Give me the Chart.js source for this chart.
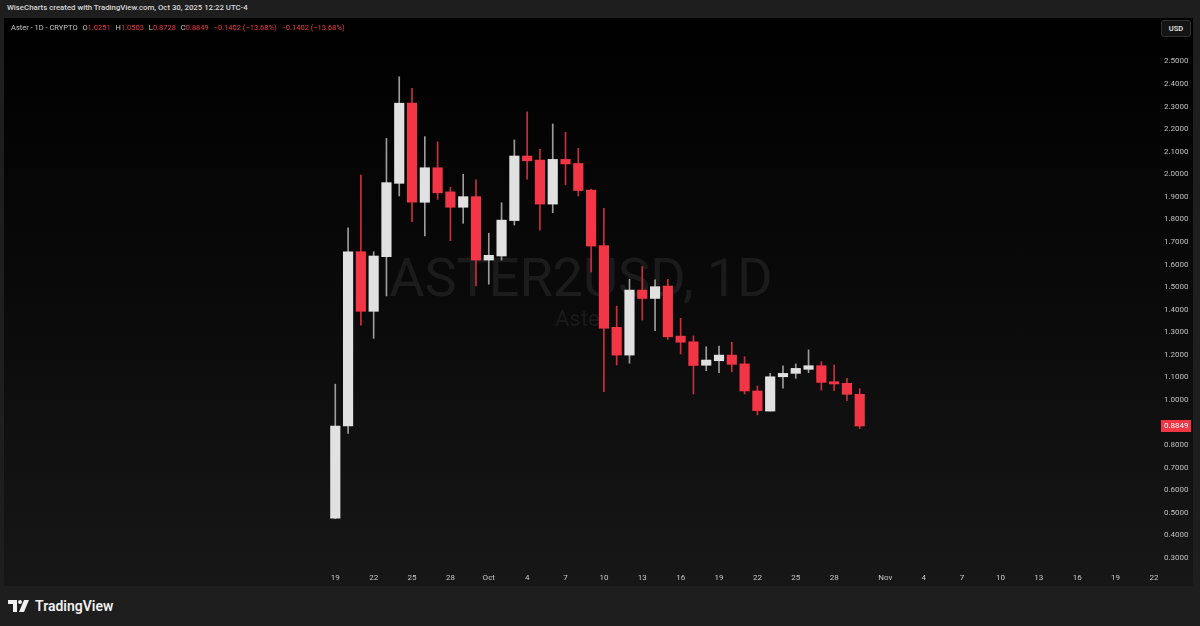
<!DOCTYPE html>
<html>
<head>
<meta charset="utf-8">
<script src="https://cdn.jsdelivr.net/npm/chart.js@4"></script>
<style>
  html, body { margin: 0; padding: 0; }
  body { width: 1200px; height: 626px; background: #1e1e1e; position: relative; overflow: hidden; font-family: Roboto, "Noto Sans", sans-serif; }
  #topline { position: absolute; left: 7px; top: 3px; font-size: 7.8px; color: #d8d8d8; font-weight: 500; white-space: nowrap; }
  #panel { position: absolute; left: 4px; top: 18px; width: 1189px; height: 568px; background: linear-gradient(to bottom, #000 0%, #0a0a0a 50%, #171717 100%); }
  #wm1 { position: absolute; left: 0; width: 1154px; top: 228px; text-align: center; font-size: 54px; color: rgba(255,255,255,0.075); white-space: nowrap; }
  #wm2 { position: absolute; left: 0; width: 1154px; top: 288px; text-align: center; font-size: 22px; color: rgba(255,255,255,0.07); white-space: nowrap; }
  #legend { position: absolute; left: 7px; top: 5px; font-size: 7.5px; color: #c8c8c8; white-space: nowrap; }
  #legend .v { color: #f23645; }
  #legend .g { margin-left: 3px; }
  #usd { position: absolute; left: 1157px; top: 2px; width: 28px; height: 15px; line-height: 15px; border: 1px solid #303030; border-radius: 3px; background: #141414; color: #e0e0e0; font-size: 7.5px; font-weight: 600; text-align: center; }
  canvas { position: absolute; left: 0; top: 0; }
  #bottom { position: absolute; left: 8px; top: 598px; height: 16px; display: flex; align-items: center; color: #f0f0f0; font-size: 14px; font-weight: 600; }
  #bottom svg { margin-right: 5px; }
</style>
</head>
<body>
<div id="topline">WiseCharts created with TradingView.com, Oct 30, 2025 12:22 UTC-4</div>
<div id="panel">
  <div id="wm1">ASTER2USD, 1D</div>
  <div id="wm2">Aster</div>
  <canvas id="myChart" width="1189" height="568"></canvas>
  <div id="legend">Aster - 1D - CRYPTO <span class="g">O</span><span class="v">1.0251</span> <span class="g">H</span><span class="v">1.0503</span> <span class="g">L</span><span class="v">0.8728</span> <span class="g">C</span><span class="v">0.8849</span> <span class="v g">−0.1402 (−13.68%)</span> <span class="v g">−0.1402 (−13.68%)</span></div>
  <div id="usd">USD</div>
</div>
<div id="bottom">
  <svg width="22" height="12" viewBox="0 0 22 12"><path d="M0 0H9V12H5V4H0Z" fill="#f0f0f0"/><circle cx="12" cy="2" r="2" fill="#f0f0f0"/><path d="M16 0H21L16 12H11Z" fill="#f0f0f0"/></svg>
  <span>TradingView</span>
</div>
<script>
// daily candles, Aster / USD
var dates = ["2025-09-19","2025-09-20","2025-09-21","2025-09-22","2025-09-23","2025-09-24","2025-09-25",
  "2025-09-26","2025-09-27","2025-09-28","2025-09-29","2025-09-30","2025-10-01","2025-10-02",
  "2025-10-03","2025-10-04","2025-10-05","2025-10-06","2025-10-07","2025-10-08","2025-10-09",
  "2025-10-10","2025-10-11","2025-10-12","2025-10-13","2025-10-14","2025-10-15","2025-10-16",
  "2025-10-17","2025-10-18","2025-10-19","2025-10-20","2025-10-21","2025-10-22","2025-10-23",
  "2025-10-24","2025-10-25","2025-10-26","2025-10-27","2025-10-28","2025-10-29","2025-10-30"];
var opens  = [0.476,0.885,1.657,1.393,1.635,1.960,2.315,1.876,2.029,1.922,1.854,1.901,1.620,1.638,
  1.795,2.081,2.063,1.868,2.066,2.048,1.930,1.684,1.322,1.199,1.487,1.450,1.505,1.283,
  1.258,1.154,1.174,1.199,1.160,1.040,0.951,1.103,1.118,1.136,1.152,1.081,1.074,1.0251];
var highs  = [1.070,1.763,1.997,1.657,2.159,2.432,2.381,2.167,2.144,1.942,2.000,1.975,1.739,1.874,
  2.152,2.277,2.111,2.223,2.186,2.115,1.935,1.849,1.416,1.535,1.591,1.532,1.535,1.362,
  1.284,1.236,1.239,1.256,1.192,1.062,1.118,1.151,1.160,1.222,1.170,1.155,1.096,1.0503];
var lows   = [0.474,0.852,1.332,1.273,1.461,1.904,1.790,1.727,1.889,1.706,1.783,1.505,1.513,1.620,
  1.775,1.978,1.753,1.830,1.953,1.904,1.568,1.037,1.155,1.163,1.354,1.307,1.268,1.204,
  1.027,1.130,1.121,1.125,1.027,0.934,0.951,1.052,1.096,1.121,1.044,1.041,0.997,0.8728];
var closes = [0.885,1.657,1.393,1.638,1.963,2.315,1.876,2.029,1.918,1.854,1.901,1.620,1.641,1.797,
  2.081,2.060,1.868,2.066,2.046,1.928,1.682,1.318,1.199,1.487,1.450,1.502,1.280,1.256,
  1.153,1.177,1.199,1.158,1.040,0.953,1.103,1.118,1.140,1.152,1.078,1.071,1.0251,0.8849];

var tickDates = ["2025-09-19","2025-09-22","2025-09-25","2025-09-28","2025-10-01","2025-10-04","2025-10-07",
  "2025-10-10","2025-10-13","2025-10-16","2025-10-19","2025-10-22","2025-10-25","2025-10-28","2025-11-01",
  "2025-11-04","2025-11-07","2025-11-10","2025-11-13","2025-11-16","2025-11-19","2025-11-22"];
var tickLabels = ["19","22","25","28","Oct","4","7","10","13","16","19","22","25","28","Nov","4","7","10","13","16","19","22"];

var upColor = '#e1e1e1', downColor = '#f23645';
var upWick = '#9c9c9c', downWick = '#c8303f';

function dayNum(s) {
  var p = s.split('-');
  return (Date.UTC(+p[0], +p[1] - 1, +p[2]) - Date.UTC(2025, 8, 1)) / 86400000;
}

var bodies = [], wicks = [], bodyCols = [], wickCols = [];
for (var i = 0; i < dates.length; i++) {
  var d = dayNum(dates[i]);
  bodies.push({x: d, y: [opens[i], closes[i]]});
  wicks.push({x: d, y: [lows[i], highs[i]]});
  var up = closes[i] >= opens[i];
  bodyCols.push(up ? upColor : downColor);
  wickCols.push(up ? upWick : downWick);
}
var tickDays = tickDates.map(dayNum);

// price tag on the right axis
var lastPricePlugin = {
  id: 'lastPrice',
  afterDraw: function(chart) {
    var ctx = chart.ctx, ys = chart.scales.y;
    var last = closes[closes.length - 1];
    var py = ys.getPixelForValue(last);
    ctx.save();
    ctx.fillStyle = downColor;
    ctx.fillRect(ys.left + 3, py - 6, 30, 12);
    ctx.fillStyle = '#ffffff';
    ctx.font = '8px Roboto';
    ctx.textBaseline = 'middle';
    ctx.textAlign = 'left';
    ctx.fillText(last.toFixed(4), ys.left + 6, py + 0.5);
    ctx.restore();
  }
};

function generateChart() {
  var chartId = document.getElementById("myChart");
  var chart = new Chart(chartId, {
    type: 'bar',
    data: {
      datasets: [
        { data: wicks, backgroundColor: wickCols, barThickness: 1, grouped: false, order: 2 },
        { data: bodies, backgroundColor: bodyCols, barThickness: 9.5, grouped: false, minBarLength: 2, order: 1 }
      ]
    },
    options: {
      responsive: false,
      devicePixelRatio: 1,
      animation: false,
      layout: { padding: 0 },
      plugins: { legend: { display: false }, tooltip: { enabled: false } },
      scales: {
        x: {
          type: 'linear',
          offset: false,
          min: -7.9,
          max: 82.32,
          grid: { display: false, drawTicks: false },
          border: { display: false },
          afterBuildTicks: function(scale) {
            scale.ticks = tickDays.map(function(v) { return {value: v}; });
          },
          afterFit: function(scale) {
            scale.height = 18;
            scale.paddingLeft = 0; scale.paddingRight = 0;
          },
          ticks: {
            autoSkip: false, maxRotation: 0, padding: 5,
            color: '#c8c8c8', font: { family: 'Roboto', size: 8 },
            callback: function(v, idx) { return tickLabels[idx]; }
          }
        },
        y: {
          position: 'right',
          min: 0.2557,
          max: 2.6925,
          grid: { display: false, drawTicks: false },
          border: { display: false },
          afterBuildTicks: function(scale) {
            var t = [];
            for (var v = 3; v <= 25; v++) t.push({value: v / 10});
            scale.ticks = t;
          },
          afterFit: function(scale) {
            scale.width = 35;
            scale.paddingTop = 0; scale.paddingBottom = 0;
          },
          ticks: {
            padding: 6,
            color: '#c0c0c0', font: { family: 'Roboto', size: 8 },
            callback: function(v) { return v.toFixed(4); }
          }
        }
      }
    },
    plugins: [lastPricePlugin]
  });
}

generateChart();
</script>
</body>
</html>
